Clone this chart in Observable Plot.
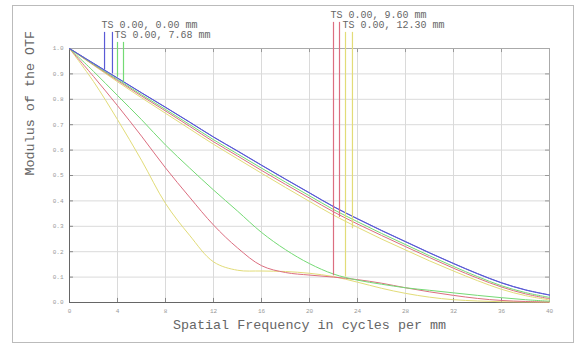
<!DOCTYPE html>
<html><head><meta charset="utf-8">
<script src="https://cdn.jsdelivr.net/npm/d3@7"></script>
<script src="https://cdn.jsdelivr.net/npm/@observablehq/plot@0.6"></script>
<style>body{margin:0;background:#fff} svg{display:block}</style>
</head><body><div id="chart"></div>
<script>
// Spatial frequency samples (cycles per mm)
const freq = [0,2,4,6,8,10,12,14,16,18,20,22,24,26,28,30,32,34,36,38,40];
// Field labels and colours
const fields = ["TS 0.00, 0.00 mm","TS 0.00, 7.68 mm","TS 0.00, 9.60 mm","TS 0.00, 12.30 mm"];
const colors = ["#5a5ad6","#74da74","#dc6e80","#e2dc78"];
// MTF values
const blueT   = [1.000,0.942,0.884,0.826,0.769,0.711,0.652,0.597,0.541,0.486,0.432,0.378,0.330,0.284,0.240,0.196,0.154,0.114,0.078,0.050,0.030];
const blueS   = [1.000,0.941,0.883,0.825,0.768,0.710,0.651,0.596,0.540,0.485,0.431,0.377,0.329,0.283,0.239,0.195,0.153,0.113,0.077,0.049,0.029];
const greenS  = [1.000,0.938,0.878,0.818,0.760,0.701,0.641,0.585,0.529,0.474,0.420,0.366,0.318,0.272,0.228,0.184,0.142,0.102,0.066,0.039,0.020];
const redS    = [1.000,0.936,0.874,0.813,0.754,0.694,0.633,0.577,0.520,0.465,0.411,0.357,0.309,0.264,0.220,0.177,0.135,0.096,0.061,0.034,0.015];
const yellowS = [1.000,0.934,0.869,0.806,0.745,0.684,0.623,0.566,0.509,0.453,0.398,0.344,0.296,0.250,0.207,0.164,0.124,0.086,0.052,0.027,0.010];
const greenT  = [1.000,0.910,0.815,0.720,0.620,0.530,0.443,0.360,0.276,0.208,0.153,0.112,0.088,0.072,0.058,0.048,0.038,0.028,0.019,0.011,0.005];
const redT    = [1.000,0.890,0.775,0.655,0.530,0.415,0.305,0.215,0.145,0.118,0.108,0.100,0.090,0.076,0.058,0.042,0.028,0.016,0.008,0.004,0.002];
const yellowT = [1.000,0.870,0.720,0.560,0.390,0.265,0.160,0.127,0.124,0.122,0.115,0.102,0.080,0.056,0.036,0.021,0.011,0.006,0.003,0.002,0.001];
// Legend marker positions (cycles/mm) and where they meet the curves
const legendX   = [[2.92,3.58],[4.0,4.5],[22.0,22.5],[23.0,23.58]];
const legendEnd = [[0.915,0.900],[0.887,0.867],[0.105,0.335],[0.100,0.290]];
// Tick values
const xTicks = [0,4,8,12,16,20,24,28,32,36,40];
const yTicks = [0,0.1,0.2,0.3,0.4,0.5,0.6,0.7,0.8,0.9,1.0];

const series = [
  {field:3, kind:"T", v:yellowT}, {field:3, kind:"S", v:yellowS},
  {field:2, kind:"T", v:redT},    {field:2, kind:"S", v:redS},
  {field:1, kind:"T", v:greenT},  {field:1, kind:"S", v:greenS},
  {field:0, kind:"S", v:blueS},   {field:0, kind:"T", v:blueT}
];
const rows = series.flatMap(s => freq.map((f, i) => ({f, m: s.v[i], key: s.field + s.kind, color: colors[s.field]})));

const level = [1, 0, 2, 1];
const topOf = i => 1.024 + level[i] * 0.0394;
const legendRules = legendX.flatMap((xs, i) => xs.map((x, j) => ({x, y1: legendEnd[i][j], y2: topOf(i), color: colors[i]})));
const legendLabels = fields.map((t, i) => ({t, x: legendX[i][0], y: topOf(i)}));

const font = "'Liberation Mono', 'DejaVu Sans Mono', monospace";
const svg = Plot.plot({
  width: 577, height: 344,
  marginLeft: 69, marginRight: 28, marginTop: 48, marginBottom: 42,
  x: {domain: [0, 40]},
  y: {domain: [0, 1]},
  color: {type: "identity"},
  style: {fontFamily: font, background: "white"},
  marks: [
    Plot.gridX(xTicks, {stroke: "#dadada", strokeOpacity: 1}),
    Plot.gridY(yTicks, {stroke: "#dadada", strokeOpacity: 1}),
    Plot.axisX(xTicks, {tickSize: 0, tickPadding: 6, fontSize: 6, color: "#999", tickFormat: d => String(d), label: null}),
    Plot.axisY(yTicks, {tickSize: 0, tickPadding: 6, fontSize: 6, color: "#999", tickFormat: d3.format(".1f"), label: null}),
    Plot.ruleX(xTicks, {y1: 0, y2: 0.016, stroke: "#888"}),
    Plot.ruleX(xTicks, {y1: 0.984, y2: 1, stroke: "#999"}),
    Plot.ruleY(yTicks, {x1: 0, x2: 0.33, stroke: "#888"}),
    Plot.ruleY(yTicks, {x1: 39.67, x2: 40, stroke: "#999"}),
    Plot.ruleX([40], {stroke: "#aaa"}),
    Plot.ruleY([1], {stroke: "#aaa"}),
    Plot.ruleX([0], {stroke: "#666"}),
    Plot.ruleY([0], {stroke: "#666"}),
    Plot.line(rows, {x: "f", y: "m", z: "key", stroke: "color", strokeWidth: 1, curve: "catmull-rom"}),
    Plot.ruleX(legendRules, {x: "x", y1: "y1", y2: "y2", stroke: d => d.color, strokeWidth: 1.2}),
    Plot.text(legendLabels, {x: "x", y: "y", text: "t", textAnchor: "start", dx: -3, dy: -7.5, fontSize: 10, fill: "#666"}),
    Plot.text(["Modulus of the OTF"], {frameAnchor: "left", rotate: -90, dx: -40, fontSize: 13.4, fill: "#666"}),
    Plot.text(["Spatial Frequency in cycles per mm"], {frameAnchor: "bottom", dy: 26, fontSize: 13.4, fill: "#666"})
  ]
});
d3.select(svg).insert("rect", ":first-child")
  .attr("x", 12.5).attr("y", 5.5).attr("width", 561).attr("height", 337)
  .attr("fill", "none").attr("stroke", "#bbb");
document.getElementById("chart").append(svg);
</script>
</body></html>
